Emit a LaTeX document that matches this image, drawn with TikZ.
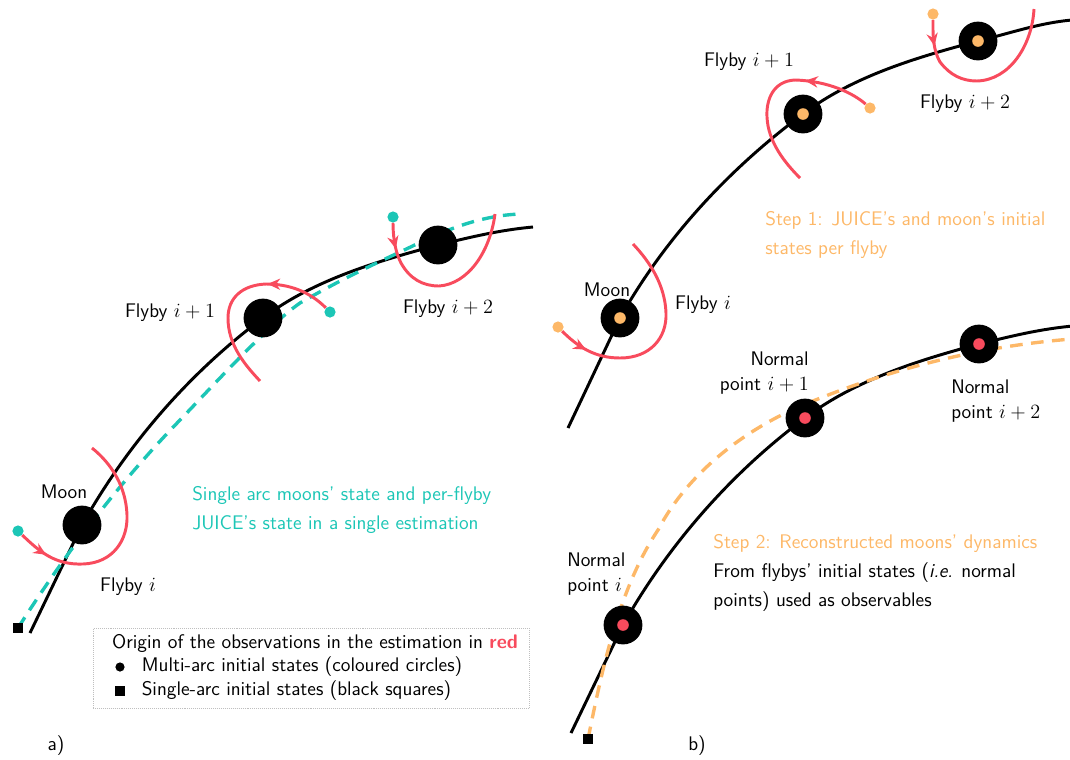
\documentclass[tikz,border=0pt]{standalone}
\usepackage{xcolor}
\usepackage{tikz}
\usetikzlibrary{arrows.meta, positioning, decorations.markings, backgrounds}
\definecolor{juiceteal}{HTML}{1CC6B6}
\definecolor{flyred}{HTML}{F84B5D}
\definecolor{steporange}{HTML}{FDB868}

\begin{document}
\begin{tikzpicture}[x=0.025cm, y=-0.025cm, font=\sffamily\fontsize{14}{16}\selectfont,
    orbit/.style={line width=2.1pt, black},
    body/.style={circle, fill=black, minimum size=0.97cm, inner sep=0pt},
    core/.style={circle, fill=#1, minimum size=0.29cm, inner sep=0pt},
    tdot/.style={circle, fill=#1, minimum size=0.28cm, inner sep=0pt},
    sq/.style={fill=black, minimum size=0.26cm, inner sep=0pt},
    flyarc/.style={flyred, line width=2.1pt, postaction={decorate},
        decoration={markings, mark=at position #1 with {\arrow{Stealth[length=9pt, width=8pt]}}}},
    estim/.style={line width=2.4pt, dash pattern=on 9pt off 6pt, #1},
    twoline/.style={align=left, inner sep=0pt, font=\sffamily\fontsize{14}{20.6}\selectfont},
    nplabel/.style={inner sep=0pt, font=\sffamily\fontsize{14}{17.8}\selectfont},
]
\useasboundingbox (0,0) rectangle (1070,759);

% a) single arc estimation
\node[body] (moonA) at (82,525) {};
\node[body] (fbA1) at (263,318) {};
\node[body] (fbA2) at (438,245) {};
\node[sq] (sqA) at (18,628) {};
\node[tdot=juiceteal] (tdA0) at (18,531) {};
\node[tdot=juiceteal] (tdA1) at (330,312) {};
\node[tdot=juiceteal] (tdA2) at (393,217) {};
\coordinate (orbA0) at (30,633);
\coordinate (orbA1) at (533,227);

\begin{scope}[on background layer]
    \draw[orbit] (orbA0) -- (moonA.center) .. controls +(45,-80) and +(-74,55) .. (fbA1.center)
        .. controls +(50,-38) and +(-60,16) .. (fbA2.center) .. controls +(33,-8) and +(-33,3) .. (orbA1);
    \draw[estim=juiceteal] (sqA.center) .. controls (65,554) and (118,484) .. (180,420)
        .. controls (208,391) and (267,326) .. (300,303) .. controls (340,280) and (370,266) .. (400,252)
        .. controls (430,238) and (470,216) .. (520,214);
\end{scope}

\draw[flyarc=0.14] (tdA0) .. controls (40,552) and (55,565) .. (83,564) .. controls (113,563) and (128,540) .. (127,515) .. controls (126,487) and (112,464) .. (92,448);
\draw[flyarc=0.33] (tdA1) .. controls (310,292) and (290,284) .. (266,284) .. controls (242,285) and (228,298) .. (228,318) .. controls (228,345) and (245,365) .. (260,381);
\draw[flyarc=0.14] (tdA2) .. controls (393,232) and (394,250) .. (401,263) .. controls (410,279) and (423,286) .. (439,286) .. controls (468,284) and (490,252) .. (495,214);

\node (lMoonA) at (64,492) {Moon};
\node (lFbA0) at (128,587) {Flyby $i$};
\node (lFbA1) at (170,313) {Flyby $i+1$};
\node (lFbA2) at (448,309) {Flyby $i+2$};
\node[twoline, juiceteal, anchor=west] (txtA) at (192,510) {Single arc moons' state and per-flyby\\JUICE's state in a single estimation};

% legend
\node[draw=black!25, densely dotted, line width=0.4pt, minimum width=10.9cm, minimum height=2cm] (legend) at (311,668) {};
\node (legTitle) at (315,643) {Origin of the observations in the estimation in \textcolor{flyred}{\textbf{red}}};
\node[circle, fill=black, minimum size=0.23cm, inner sep=0pt] (legDot) at (120,667) {};
\node[right=0.42cm of legDot, inner sep=0pt] (legDotTxt) {Multi-arc initial states (coloured circles)};
\node[sq] (legSq) at (120,691) {};
\node[right=0.4cm of legSq, inner sep=0pt] (legSqTxt) {Single-arc initial states (black squares)};

\node (labA) at (56,746) {a)};

% b) step 1: per-flyby states
\node[body] (moonB) at (620,318) {};
\node[core=steporange] (moonBc) at (moonB) {};
\node[body] (fbB1) at (803,114) {};
\node[core=steporange] (fbB1c) at (fbB1) {};
\node[body] (fbB2) at (978,41) {};
\node[core=steporange] (fbB2c) at (fbB2) {};
\node[tdot=steporange] (odB0) at (558,327) {};
\node[tdot=steporange] (odB1) at (870,108) {};
\node[tdot=steporange] (odB2) at (933,14) {};
\coordinate (orbB0) at (568,428);
\coordinate (orbB1) at (1072,20);

\begin{scope}[on background layer]
    \draw[orbit] (orbB0) -- (moonB.center) .. controls +(45,-80) and +(-74,55) .. (fbB1.center)
        .. controls +(50,-38) and +(-60,16) .. (fbB2.center) .. controls +(33,-8) and +(-33,3) .. (orbB1);
\end{scope}

\draw[flyarc=0.14] (odB0) .. controls (578,347) and (595,358) .. (620,358) .. controls (650,358) and (667,338) .. (666,313) .. controls (665,285) and (650,262) .. (633,244);
\draw[flyarc=0.33] (odB1) .. controls (853,93) and (828,81) .. (795,80) .. controls (773,81) and (766,100) .. (767,117) .. controls (768,142) and (785,163) .. (800,178);
\draw[flyarc=0.14] (odB2) .. controls (933,30) and (932,48) .. (940,62) .. controls (950,75) and (962,81) .. (977,81) .. controls (1010,80) and (1032,45) .. (1034,9);

\node (lMoonB) at (607,290) {Moon};
\node (lFbB0) at (703,305) {Flyby $i$};
\node (lFbB1) at (749,62) {Flyby $i+1$};
\node (lFbB2) at (965,104) {Flyby $i+2$};
\node[twoline, steporange, anchor=west] (step1) at (765,235) {Step 1: JUICE's and moon's initial\\states per flyby};

% b) step 2: normal points
\node[body] (npB0) at (623,625) {};
\node[core=flyred] (npB0c) at (npB0) {};
\node[body] (npB1) at (805,418) {};
\node[core=flyred] (npB1c) at (npB1) {};
\node[body] (npB2) at (979,344) {};
\node[core=flyred] (npB2c) at (npB2) {};
\node[sq] (sqB) at (588,739) {};
\coordinate (orbC0) at (571,733);
\coordinate (orbC1) at (1073,326);

\begin{scope}[on background layer]
    \draw[orbit] (orbC0) -- (npB0.center) .. controls +(45,-80) and +(-74,55) .. (npB1.center)
        .. controls +(50,-38) and +(-60,16) .. (npB2.center) .. controls +(33,-8) and +(-33,3) .. (orbC1);
    \draw[estim=steporange] (sqB.center) .. controls (602,670) and (619,588) .. (658,530)
        .. controls (690,469) and (751,425) .. (813,401) .. controls (894,368) and (982,346) .. (1072,339);
\end{scope}

\node[nplabel, align=left, anchor=west] (lNp0) at (567,574) {Normal\\point $i$};
\node[nplabel, align=right, anchor=east] (lNp1) at (809,373) {Normal\\point $i+1$};
\node[nplabel, align=left, anchor=west] (lNp2) at (951,401) {Normal\\point $i+2$};
\node[twoline, anchor=west] (step2) at (713,573) {\textcolor{steporange}{Step 2: Reconstructed moons' dynamics}\\From flybys' initial states (\textit{i.e.} normal\\points) used as observables};

\node (labB) at (697,746) {b)};
\end{tikzpicture}
\end{document}
